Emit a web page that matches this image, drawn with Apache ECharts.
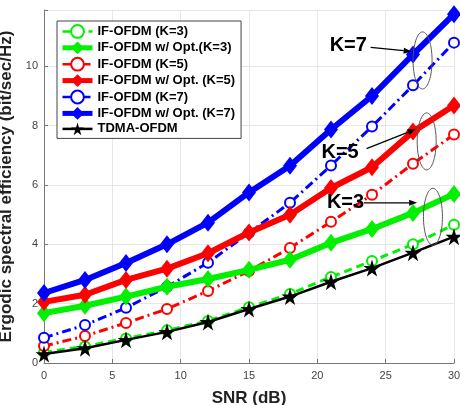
<!DOCTYPE html>
<html>
<head>
<meta charset="utf-8">
<script src="https://cdn.jsdelivr.net/npm/echarts@6/dist/echarts.min.js"></script>
<style>
  html, body { margin: 0; padding: 0; background: #fff; }
  #chart { width: 460px; height: 405px; }
</style>
</head>
<body>
<div id="chart"></div>
<script>
// SNR (dB)
var snr = [0, 3, 6, 9, 12, 15, 18, 21, 24, 27, 30]

// ergodic spectral efficiency values
var ifK3 = [0.36, 0.56, 0.83, 1.1, 1.42, 1.88, 2.33, 2.9, 3.44, 4.0, 4.66]
var optK3 = [1.68, 1.93, 2.24, 2.57, 2.83, 3.14, 3.48, 4.05, 4.52, 5.06, 5.7]
var ifK5 = [0.57, 0.91, 1.35, 1.82, 2.43, 3.1, 3.88, 4.76, 5.67, 6.72, 7.7]
var optK5 = [2.06, 2.3, 2.8, 3.18, 3.7, 4.4, 5.0, 5.9, 6.6, 7.8, 8.68]
var ifK7 = [0.85, 1.28, 1.86, 2.57, 3.38, 4.39, 5.4, 6.66, 7.97, 9.36, 10.8]
var optK7 = [2.36, 2.8, 3.37, 4.0, 4.73, 5.75, 6.65, 7.87, 9.0, 10.4, 11.76]
var tdma = [0.3, 0.5, 0.78, 1.05, 1.38, 1.82, 2.24, 2.74, 3.2, 3.72, 4.26]

var names = ['IF-OFDM (K=3)', 'IF-OFDM w/ Opt.(K=3)', 'IF-OFDM (K=5)', 'IF-OFDM w/ Opt. (K=5)',
  'IF-OFDM (K=7)', 'IF-OFDM w/ Opt. (K=7)', 'TDMA-OFDM']

var star = 'path://M50,0 L61,35 L98,35 L68,57 L79,91 L50,70 L21,91 L32,57 L2,35 L39,35 Z'

function pairs(ys) {
  return ys.map(function (y, i) { return [snr[i], y] })
}

// dashed curve with open circles
function plain(name, ys, color, dash) {
  return {
    name: name, type: 'line', data: pairs(ys),
    symbol: 'emptyCircle', symbolSize: 10,
    itemStyle: { color: color, borderColor: color, borderWidth: 2.5 },
    lineStyle: { color: color, width: 3, type: dash },
    z: 2
  }
}

// thick solid curve with diamonds
function opt(name, ys, color) {
  return {
    name: name, type: 'line', data: pairs(ys),
    symbol: 'diamond', symbolSize: [14, 18],
    itemStyle: { color: color },
    lineStyle: { color: color, width: 6 },
    z: 3
  }
}

// legend entries, thicker sample line for the optimized curves
var legendData = names.map(function (n, i) {
  var w = (i === 1 || i === 3 || i === 5) ? 5 : (i === 6 ? 2.5 : 2.5)
  return { name: n, lineStyle: { width: w } }
})

var chart = echarts.init(document.getElementById('chart'))

chart.setOption({
  animation: false,
  grid: { left: 44, right: 6, top: 10, bottom: 42, outerBoundsMode: 'none', containLabel: false },
  legend: {
    orient: 'vertical',
    left: 57, top: 21,
    padding: [3, 6, 3, 3],
    itemWidth: 30, itemHeight: 16, itemGap: 2.5,
    backgroundColor: '#fff',
    borderColor: '#444', borderWidth: 1, borderRadius: 0,
    textStyle: { fontFamily: 'Liberation Sans, Arial', fontWeight: 'bold', fontSize: 13, color: '#000' },
    data: legendData
  },
  xAxis: {
    type: 'value', min: 0, max: 30, interval: 5,
    name: 'SNR (dB)', nameLocation: 'middle', nameGap: 27,
    nameTextStyle: { fontFamily: 'Liberation Sans, Arial', fontWeight: 'bold', fontSize: 17, color: '#222' },
    axisLine: { lineStyle: { color: '#777', width: 1 } },
    axisTick: { show: true, inside: true, length: 4, lineStyle: { color: '#777' } },
    axisLabel: { color: '#444', fontSize: 11, fontFamily: 'Liberation Sans, Arial', margin: 7 },
    splitLine: { show: true, lineStyle: { color: '#e6e6e6' } }
  },
  yAxis: {
    type: 'value', min: 0, max: 11.9, interval: 2,
    name: 'Ergodic spectral efficiency (bit/sec/Hz)', nameLocation: 'middle', nameGap: 24,
    nameTextStyle: { fontFamily: 'Liberation Sans, Arial', fontWeight: 'bold', fontSize: 17, color: '#222' },
    axisLine: { show: true, lineStyle: { color: '#777', width: 1 } },
    axisTick: { show: true, inside: true, length: 4, lineStyle: { color: '#777' } },
    axisLabel: {
      color: '#444', fontSize: 11, fontFamily: 'Liberation Sans, Arial', margin: 6,
      formatter: function (v) { return v > 11 ? '' : v }
    },
    splitLine: { show: true, lineStyle: { color: '#e6e6e6' } }
  },
  series: [
    plain(names[0], ifK3, '#00f000', [8, 5]),
    opt(names[1], optK3, '#00f000'),
    plain(names[2], ifK5, '#ff0000', [9, 4, 2, 4]),
    opt(names[3], optK5, '#ff0000'),
    plain(names[4], ifK7, '#0000ff', [9, 4, 2, 4]),
    opt(names[5], optK7, '#0000ff'),
    {
      name: names[6], type: 'line', data: pairs(tdma),
      symbol: star, symbolSize: 17,
      itemStyle: { color: '#000' },
      lineStyle: { color: '#000', width: 2.5 },
      z: 4
    }
  ]
})

// annotations: label, arrow, ellipse (positions in data units)
var notes = [
  { text: 'K=7', at: [20.9, 10.7], from: [23.9, 10.64], to: [26.9, 10.5], ell: [27.7, 10.2] },
  { text: 'K=5', at: [20.3, 7.09], from: [23.6, 7.23], to: [27.2, 7.88], ell: [28.0, 7.47] },
  { text: 'K=3', at: [20.7, 5.4], from: [23.4, 5.4], to: [27.3, 5.4], ell: [28.46, 4.93] }
]

var graphics = []
notes.forEach(function (n) {
  var p = chart.convertToPixel({ gridIndex: 0 }, n.at)
  var a = chart.convertToPixel({ gridIndex: 0 }, n.from)
  var b = chart.convertToPixel({ gridIndex: 0 }, n.to)
  var e = chart.convertToPixel({ gridIndex: 0 }, n.ell)
  var ang = Math.atan2(b[1] - a[1], b[0] - a[0])
  var hl = 8, hw = 3
  var bx = b[0] - hl * Math.cos(ang), by = b[1] - hl * Math.sin(ang)
  graphics.push({
    type: 'text', x: p[0], y: p[1], z: 10,
    style: { text: n.text, fill: '#000', font: 'bold 20px "Liberation Sans", Arial', verticalAlign: 'middle' }
  })
  graphics.push({
    type: 'line', z: 10,
    shape: { x1: a[0], y1: a[1], x2: bx, y2: by },
    style: { stroke: '#000', lineWidth: 1.3 }
  })
  graphics.push({
    type: 'polygon', z: 10,
    shape: { points: [
      [b[0], b[1]],
      [bx + hw * Math.sin(ang), by - hw * Math.cos(ang)],
      [bx - hw * Math.sin(ang), by + hw * Math.cos(ang)]
    ] },
    style: { fill: '#000' }
  })
  graphics.push({
    type: 'ellipse', z: 10,
    shape: { cx: e[0], cy: e[1], rx: 9.5, ry: 28.5 },
    style: { fill: 'none', stroke: '#555', lineWidth: 1 }
  })
})
chart.setOption({ graphic: graphics })
</script>
</body>
</html>
